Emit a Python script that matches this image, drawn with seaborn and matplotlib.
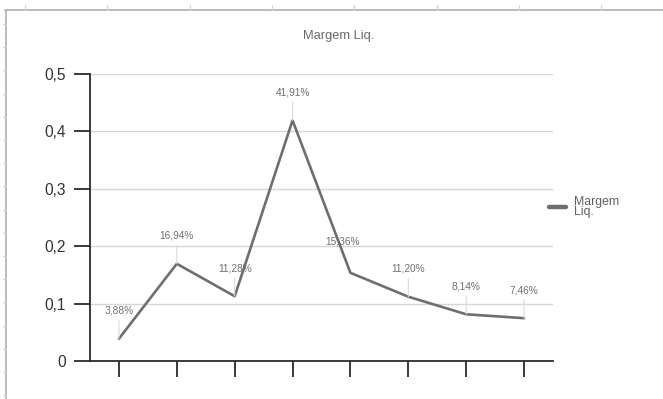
import matplotlib
matplotlib.use("Agg")
import matplotlib.pyplot as plt
import seaborn as sns
import pandas as pd
from matplotlib.lines import Line2D

# ---- data ----
periods = [0, 1, 2, 3, 4, 5, 6, 7]
margem_liq = [0.0388, 0.1694, 0.1128, 0.4191, 0.1536, 0.1120, 0.0814, 0.0746]
point_labels = ["3,88%", "16,94%", "11,28%", "41,91%", "15,36%", "11,20%", "8,14%", "7,46%"]
y_ticks = [0, 0.1, 0.2, 0.3, 0.4, 0.5]
y_tick_labels = ["0", "0,1", "0,2", "0,3", "0,4", "0,5"]
title = "Margem Liq."
series_name = "Margem\nLiq."

df = pd.DataFrame({"periodo": periods, "valor": margem_liq})

sns.set_theme(style="white")
plt.rcParams["font.family"] = ["Liberation Sans", "DejaVu Sans"]

W, H = 663, 399
fig = plt.figure(figsize=(W / 100, H / 100), dpi=100)
ax = fig.add_axes([90 / W, (H - 361) / H, 463 / W, 287 / H])

line_color = "#6e6e6e"
sns.lineplot(data=df, x="periodo", y="valor", ax=ax, color=line_color,
             linewidth=1.9, legend=False)

ax.set_xlim(-0.5, 7.5)
ax.set_ylim(0, 0.5)
ax.set_yticks(y_ticks)
ax.set_yticklabels(y_tick_labels, fontsize=11.2, color="#333333")
ax.set_xticks(periods)
ax.set_xticklabels([""] * len(periods))
ax.set_xlabel("")
ax.set_ylabel("")

for s in ["top", "right"]:
    ax.spines[s].set_visible(False)
for s in ["left", "bottom"]:
    ax.spines[s].set_color("#2b2b2b")
    ax.spines[s].set_linewidth(1.3)

ax.tick_params(axis="y", length=11.5, width=1.3, color="#2b2b2b", pad=6, left=True)
ax.tick_params(axis="x", length=11.5, width=1.3, color="#2b2b2b", bottom=True)
ax.yaxis.grid(True, color="#d6d6d6", linewidth=1.0)
ax.set_axisbelow(True)

# point labels with leader lines
offsets = {4: (-6.0, 22.8)}
no_leader = {4}
for i, (x, v, lab) in enumerate(zip(periods, margem_liq, point_labels)):
    dx, dy = offsets.get(i, (0, 20.2))
    arrow = None if i in no_leader else dict(arrowstyle="-", color="#d9d9d9", lw=0.8,
                                             shrinkA=1, shrinkB=0)
    ax.annotate(lab, xy=(x, v), xytext=(dx, dy), textcoords="offset points",
                ha="center", va="center", fontsize=7.3, color="#6f6f6f",
                arrowprops=arrow, annotation_clip=False, zorder=5)

# title
fig.text(339 / W, 1 - 36 / H, title, ha="center", va="center",
         fontsize=9.3, color="#6a6a6a")

# legend
handle = Line2D([0], [0], color=line_color, linewidth=3.2)
leg = fig.legend([handle], [series_name], loc="center left",
                 bbox_to_anchor=(538 / W, 1 - 207 / H), frameon=False,
                 fontsize=8.8, handlelength=1.35, handletextpad=0.7,
                 labelspacing=0.2)
for t in leg.get_texts():
    t.set_color("#5f5f5f")
    t.set_linespacing(0.85)

# outer frame (sheet border)
frame_color = "#b5b5b5"
fig.add_artist(Line2D([5 / W, 1.0], [1 - 9.5 / H, 1 - 9.5 / H], color=frame_color,
                      linewidth=1.3, transform=fig.transFigure))
fig.add_artist(Line2D([6 / W, 6 / W], [0.0, 1 - 9.5 / H], color=frame_color,
                      linewidth=1.3, transform=fig.transFigure))
for k in range(8):
    xp = (25 + 82.3 * k) / W
    fig.add_artist(Line2D([xp, xp], [1 - 4.5 / H, 1 - 9.5 / H], color="#d4d4d4",
                          linewidth=0.9, transform=fig.transFigure))
for k in range(17):
    yp = 1 - (24 + 23.2 * k) / H
    if yp < 0:
        break
    fig.add_artist(Line2D([2.5 / W, 6 / W], [yp, yp], color="#d4d4d4",
                          linewidth=0.9, transform=fig.transFigure))

fig.savefig("out.png", dpi=100)
